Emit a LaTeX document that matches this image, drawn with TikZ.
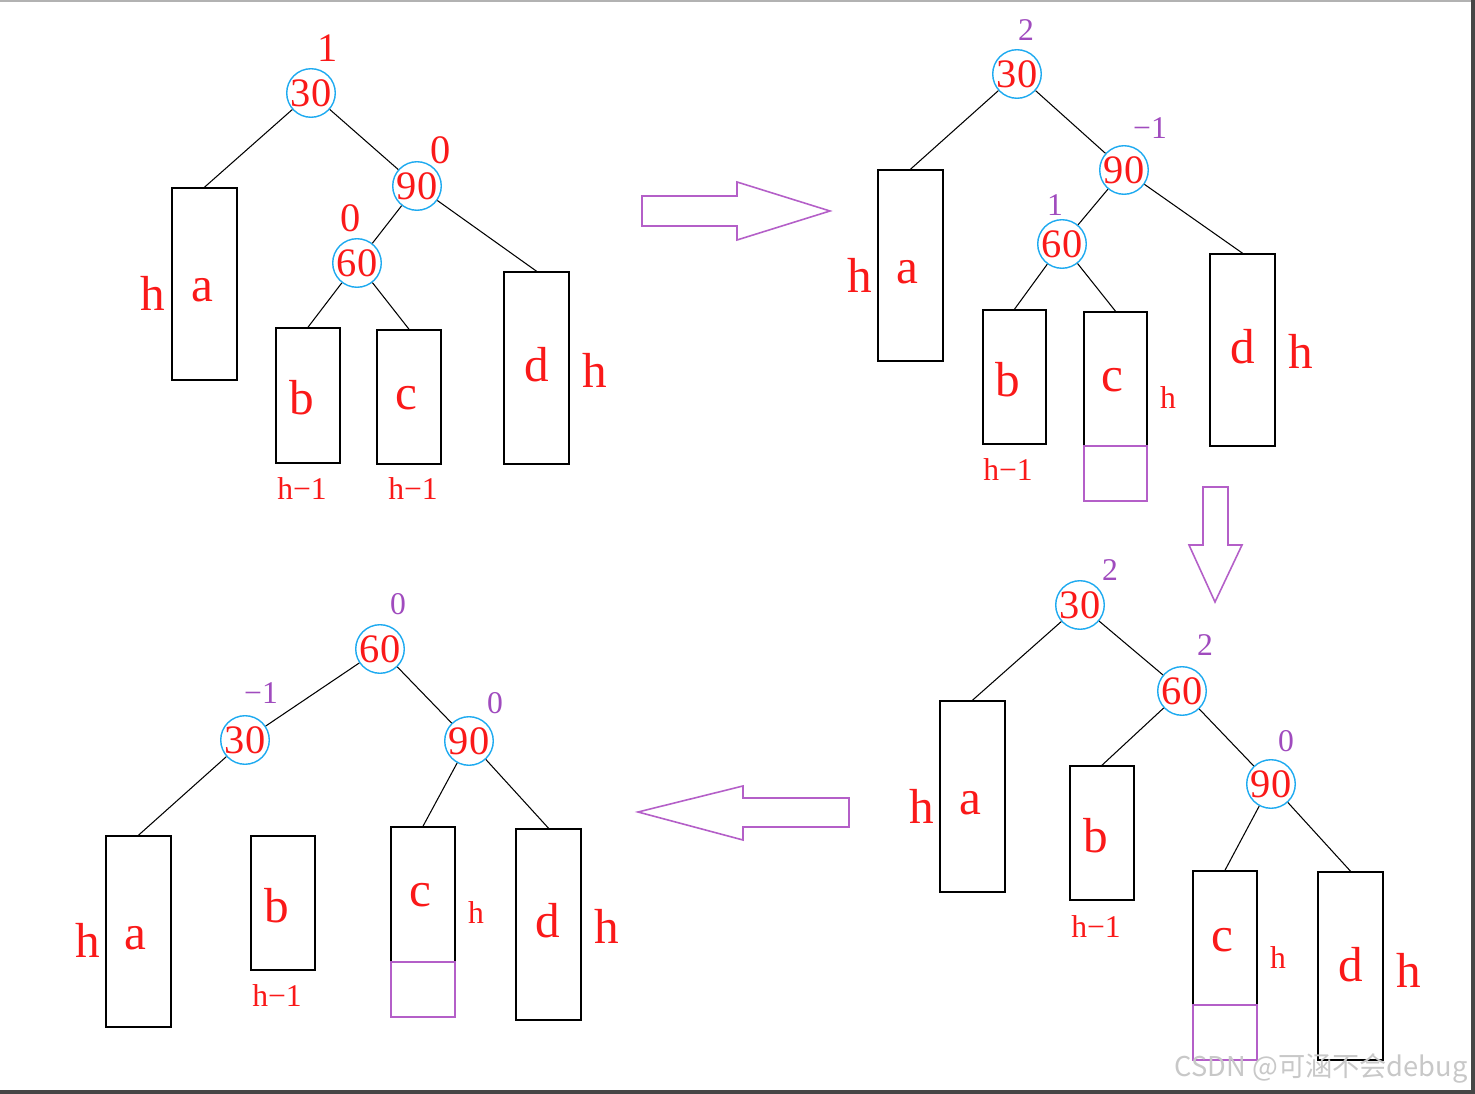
\documentclass[tikz,border=0pt]{standalone}
\usepackage{fontspec}
\setmainfont{Liberation Serif}
\newfontfamily\cjkfont{Noto Sans CJK SC}
\usetikzlibrary{fit}
\definecolor{tred}{RGB}{250,25,25}
\definecolor{ccyan}{RGB}{30,170,240}
\definecolor{tpurple}{RGB}{160,75,190}
\definecolor{apurple}{RGB}{180,95,200}
\definecolor{frameg}{RGB}{70,70,70}
\tikzset{
  bst/.style={circle, draw=ccyan, line width=0.8pt, minimum size=0.92cm, inner sep=0pt, text=tred, font=\fontsize{23}{23}\selectfont},
  rbal/.style={text=tred, inner sep=0pt, font=\fontsize{23}{23}\selectfont},
  pbal/.style={text=tpurple, inner sep=0pt, font=\fontsize{18}{18}\selectfont},
  big/.style={text=tred, inner sep=0pt, font=\fontsize{28}{28}\selectfont},
  sm/.style={text=tred, inner sep=0pt, font=\fontsize{18}{18}\selectfont},
  box/.style={draw=black, line width=0.9pt, inner sep=0pt},
  pbox/.style={draw=apurple, line width=0.7pt, inner sep=0pt},
  edge/.style={line width=0.6pt, black},
  parrow/.style={draw=apurple, line width=0.9pt, line join=miter},
  wm/.style={text={rgb,255:red,200;green,200;blue,200}, inner sep=0pt, font=\cjkfont\fontsize{15.5}{16}\selectfont}
}
\begin{document}
\begin{tikzpicture}[x=0.02cm, y=-0.02cm]
\useasboundingbox (0,0) rectangle (1475,1094);
\fill[white] (0,0) rectangle (1475,1094);
% frame
\fill[gray!60] (0,0) rectangle (1475,2);
\fill[frameg] (1471,0) rectangle (1475,1094);
\fill[frameg] (0,1090) rectangle (1475,1094);

% ---------- Tree 1 (top-left) ----------
\node[bst] (A30) at (311,93) {30};
\node[rbal] (A30b) at (328,48) {1};
\node[bst] (A90) at (417,186) {90};
\node[rbal] (A90b) at (441,150) {0};
\node[bst] (A60) at (357,263) {60};
\node[rbal] (A60b) at (351,218) {0};
\node[box, fit={(172,188)(237,380)}] (Aa) {};
\node[big] (Aal) at (202,290) {a};
\node[big] (Aah) at (153,293) {h};
\node[box, fit={(276,328)(340,463)}] (Ab) {};
\node[big] (Abl) at (302,398) {b};
\node[sm] (Abh) at (302,489) {h−1};
\node[box, fit={(377,330)(441,464)}] (Ac) {};
\node[big] (Acl) at (406,398) {c};
\node[sm] (Ach) at (413,489) {h−1};
\node[box, fit={(504,272)(569,464)}] (Ad) {};
\node[big] (Adl) at (537,365) {d};
\node[big] (Adh) at (595,370) {h};
\draw[edge] (A30) -- (Aa.north);
\draw[edge] (A30) -- (A90);
\draw[edge] (A90) -- (A60);
\draw[edge] (A90) -- (Ad.north);
\draw[edge] (A60) -- (Ab.north);
\draw[edge] (A60) -- (Ac.north);

% arrow right
\draw[parrow] (642,196) -- (737,196) -- (737,182) -- (830,211) -- (737,240) -- (737,226) -- (642,226) -- cycle;

% ---------- Tree 2 (top-right) ----------
\node[bst] (B30) at (1017,74) {30};
\node[pbal] (B30b) at (1026,30) {2};
\node[bst] (B90) at (1124,170) {90};
\node[pbal] (B90b) at (1150,128) {−1};
\node[bst] (B60) at (1062,244) {60};
\node[pbal] (B60b) at (1055,205) {1};
\node[box, fit={(878,170)(943,361)}] (Ba) {};
\node[big] (Bal) at (907,272) {a};
\node[big] (Bah) at (860,275) {h};
\node[box, fit={(983,310)(1046,444)}] (Bb) {};
\node[big] (Bbl) at (1008,380) {b};
\node[sm] (Bbh) at (1008,470) {h−1};
\node[box, fit={(1084,312)(1147,446)}] (Bc) {};
\node[pbox, fit={(1084,446)(1147,501)}] (Bcp) {};
\node[big] (Bcl) at (1112,380) {c};
\node[sm] (Bch) at (1168,398) {h};
\node[box, fit={(1210,254)(1275,446)}] (Bd) {};
\node[big] (Bdl) at (1243,347) {d};
\node[big] (Bdh) at (1301,351) {h};
\draw[edge] (B30) -- (Ba.north);
\draw[edge] (B30) -- (B90);
\draw[edge] (B90) -- (B60);
\draw[edge] (B90) -- (Bd.north);
\draw[edge] (B60) -- (Bb.north);
\draw[edge] (B60) -- (Bc.north);

% arrow down
\draw[parrow] (1203,487) -- (1228,487) -- (1228,545) -- (1242,545) -- (1215,602) -- (1189,545) -- (1203,545) -- cycle;

% ---------- Tree 3 (bottom-right) ----------
\node[bst] (C30) at (1080,605) {30};
\node[pbal] (C30b) at (1110,570) {2};
\node[bst] (C60) at (1182,691) {60};
\node[pbal] (C60b) at (1205,645) {2};
\node[bst] (C90) at (1271,784) {90};
\node[pbal] (C90b) at (1286,741) {0};
\node[box, fit={(940,701)(1005,892)}] (Ca) {};
\node[big] (Cal) at (970,803) {a};
\node[big] (Cah) at (922,806) {h};
\node[box, fit={(1070,766)(1134,900)}] (Cb) {};
\node[big] (Cbl) at (1096,836) {b};
\node[sm] (Cbh) at (1096,927) {h−1};
\node[box, fit={(1193,871)(1257,1005)}] (Cc) {};
\node[pbox, fit={(1193,1005)(1257,1060)}] (Ccp) {};
\node[big] (Ccl) at (1222,940) {c};
\node[sm] (Cch) at (1278,958) {h};
\node[box, fit={(1318,872)(1383,1060)}] (Cd) {};
\node[big] (Cdl) at (1351,965) {d};
\node[big] (Cdh) at (1409,970) {h};
\draw[edge] (C30) -- (Ca.north);
\draw[edge] (C30) -- (C60);
\draw[edge] (C60) -- (Cb.north);
\draw[edge] (C60) -- (C90);
\draw[edge] (C90) -- (Cc.north);
\draw[edge] (C90) -- (Cd.north);

% arrow left
\draw[parrow] (849,798) -- (743,798) -- (743,786) -- (638,812) -- (743,840) -- (743,827) -- (849,827) -- cycle;

% ---------- Tree 4 (bottom-left) ----------
\node[bst] (D60) at (380,649) {60};
\node[pbal] (D60b) at (398,604) {0};
\node[bst] (D30) at (245,740) {30};
\node[pbal] (D30b) at (261,693) {−1};
\node[bst] (D90) at (469,741) {90};
\node[pbal] (D90b) at (495,703) {0};
\node[box, fit={(106,836)(171,1027)}] (Da) {};
\node[big] (Dal) at (135,938) {a};
\node[big] (Dah) at (88,940) {h};
\node[box, fit={(251,836)(315,970)}] (Db) {};
\node[big] (Dbl) at (277,906) {b};
\node[sm] (Dbh) at (277,996) {h−1};
\node[box, fit={(391,827)(455,962)}] (Dc) {};
\node[pbox, fit={(391,962)(455,1017)}] (Dcp) {};
\node[big] (Dcl) at (420,895) {c};
\node[sm] (Dch) at (476,913) {h};
\node[box, fit={(516,829)(581,1020)}] (Dd) {};
\node[big] (Ddl) at (548,921) {d};
\node[big] (Ddh) at (607,926) {h};
\draw[edge] (D60) -- (D30);
\draw[edge] (D60) -- (D90);
\draw[edge] (D30) -- (Da.north);
\draw[edge] (D90) -- (Dc.north);
\draw[edge] (D90) -- (Dd.north);

% watermark
\node[wm, anchor=east] (wm) at (1468,1068) {CSDN @可涵不会debug};
\end{tikzpicture}
\end{document}
